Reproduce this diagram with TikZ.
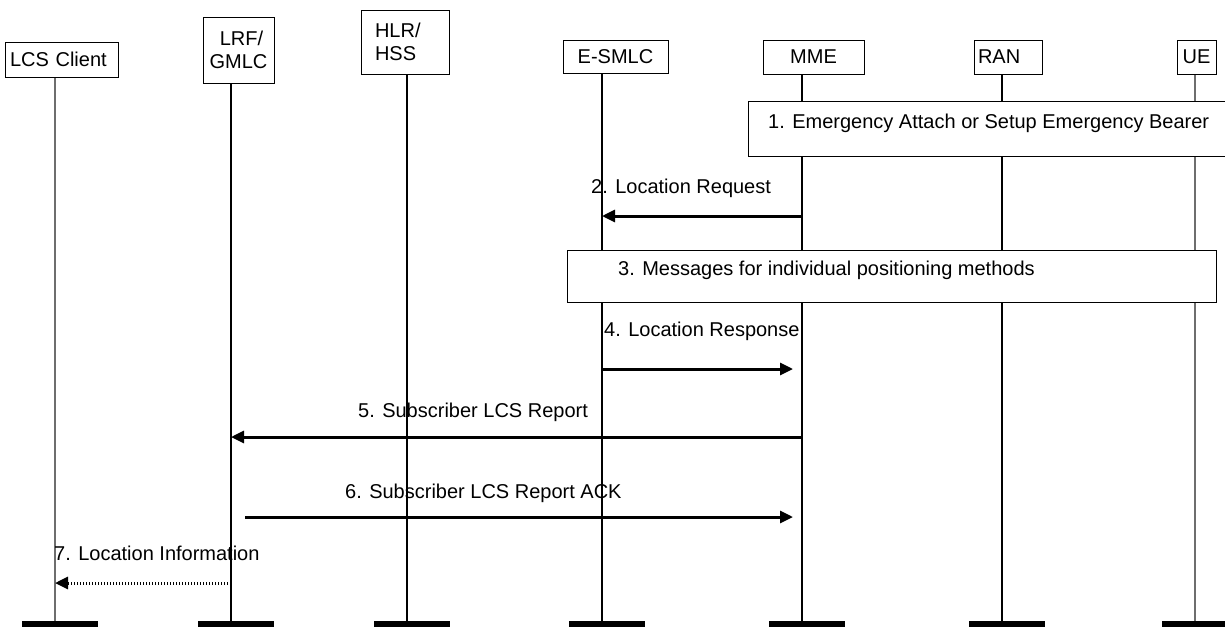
\documentclass[tikz,border=0pt]{standalone}
\usepackage{fontspec}
\setmainfont{Liberation Sans}
\usetikzlibrary{arrows.meta, positioning}
\definecolor{lGray}{HTML}{6E6E6E}

\tikzset{
  txt/.style={font=\fontsize{20}{23}\selectfont},
  headbox/.style={txt, draw, line width=1pt, fill=white, inner sep=0pt, align=center},
  notebox/.style={draw, line width=1pt, fill=white, inner sep=0pt},
  lbl/.style={txt, inner sep=0pt, anchor=west},
  endbar/.style={fill=black, inner sep=0pt, minimum width=76pt, minimum height=6pt},
  msg/.style={line width=3pt, -{Triangle[length=13pt,width=12pt]}},
}

\begin{document}
\begin{tikzpicture}[x=1pt, y=-1pt]
  \useasboundingbox (0,0) rectangle (1225,627);

  % Lifelines and end bars
  \foreach \n/\x/\w/\c in {lcs/55/1.2/lGray, lrf/231/2/black, hlr/407/2/black,
      esmlc/602/2/black, mme/802/2/black, ran/1002/2/black, ue/1195/1.5/lGray}{
    \coordinate (\n) at (\x,60);
    \node[endbar] (\n-end) at (\x+5,624) {};
    \draw[line width=\w pt, \c] (\n) -- (\n |- \n-end.north);
  }

  % Entities
  \node[headbox, minimum width=113pt, minimum height=35pt, text width=103pt, align=left] (lcsbox) at (61.5,59.5) {LCS Client};
  \node[headbox, minimum width=71pt, minimum height=66pt] (lrfbox) at (238.5,50) {\hspace{6pt}LRF/\\GMLC};
  \node[headbox, minimum width=88pt, minimum height=64pt, text width=60pt, align=left] (hlrbox) at (405,42) {HLR/\\HSS};
  \node[headbox, minimum width=105pt, minimum height=33pt] (esmlcbox) at (615.5,56.5) {E-SMLC};
  \node[headbox, minimum width=101pt, minimum height=34pt] (mmebox) at (813.5,57) {MME};
  \node[headbox, minimum width=68pt, minimum height=34pt, text width=60pt, align=left] (ranbox) at (1008,57) {RAN};
  \node[headbox, minimum width=39pt, minimum height=34pt] (uebox) at (1196.5,57) {UE};

  % Procedure boxes
  \node[notebox, anchor=north west, minimum width=490pt, minimum height=55pt] (attach) at (748,101) {};
  \node[lbl] (attachtxt) at (768,123) {1. Emergency Attach or Setup Emergency Bearer};
  \node[notebox, anchor=north west, minimum width=649pt, minimum height=52pt] (posbox) at (567,250) {};
  \node[lbl] (postxt) at (618,270) {3. Messages for individual positioning methods};

  % Message levels
  \coordinate (lv2) at (0,216);
  \coordinate (lv4) at (0,369);
  \coordinate (lv5) at (0,437);
  \coordinate (lv6) at (0,517);
  \coordinate (lv7) at (0,583);

  % Messages
  \draw[msg] (mme |- lv2) -- (esmlc |- lv2);
  \node[lbl] (m2) at (591,188) {2. Location Request};

  \draw[msg, shorten >=9pt] (esmlc |- lv4) -- (mme |- lv4);
  \node[lbl] (m4) at (604,331) {4. Location Response};

  \draw[msg] (mme |- lv5) -- (lrf |- lv5);
  \node[lbl] (m5) at (358,412) {5. Subscriber LCS Report};

  \draw[msg, shorten <=14pt, shorten >=9pt] (lrf |- lv6) -- (mme |- lv6);
  \node[lbl] (m6) at (345,493) {6. Subscriber LCS Report ACK};

  \draw[msg, dash pattern=on 1.5pt off 1.5pt] (lrf |- lv7) -- (lcs |- lv7);
  \node[lbl] (m7) at (54,553) {7. Location Information};
\end{tikzpicture}
\end{document}
